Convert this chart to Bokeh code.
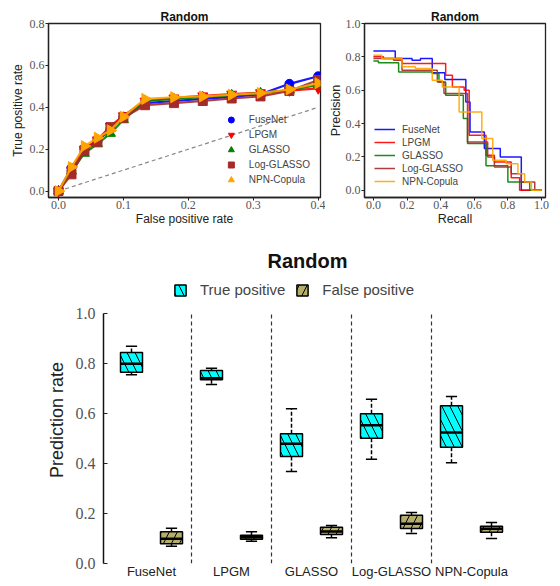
import math
import numpy as np
from bokeh.plotting import figure
from bokeh.layouts import column, row
from bokeh.models import (Range1d, FixedTicker, PrintfTickFormatter, Legend,
                          LegendItem)
from bokeh.embed import file_html
from bokeh.resources import INLINE

# ---------------- data ----------------
methods = ["FuseNet", "LPGM", "GLASSO", "Log-GLASSO", "NPN-Copula"]

# ROC (top-left)
roc_fpr = [0.0, 0.02, 0.04, 0.06, 0.08, 0.10, 0.1333, 0.1778, 0.2222, 0.2667, 0.3111, 0.3556, 0.40]
roc_fusenet = [0.0, 0.110, 0.205, 0.240, 0.295, 0.355, 0.420, 0.430, 0.440, 0.450, 0.462, 0.512, 0.548]
roc_lpgm = [0.0, 0.100, 0.200, 0.245, 0.310, 0.360, 0.430, 0.445, 0.455, 0.463, 0.470, 0.480, 0.490]
roc_glasso = [0.0, 0.095, 0.180, 0.225, 0.275, 0.340, 0.430, 0.440, 0.448, 0.458, 0.468, 0.482, 0.507]
roc_logglasso = [0.0, 0.080, 0.195, 0.235, 0.305, 0.350, 0.410, 0.420, 0.430, 0.442, 0.452, 0.478, 0.530]
roc_npn = [0.0, 0.115, 0.215, 0.255, 0.290, 0.355, 0.440, 0.448, 0.452, 0.460, 0.468, 0.485, 0.515]
roc_xticks = [0.0, 0.1, 0.2, 0.3, 0.4]
roc_yticks = [0.0, 0.2, 0.4, 0.6, 0.8]

# Precision-recall (top-right), step curves
pr_rec_fusenet = [0.0, 0.13, 0.23, 0.28, 0.35, 0.425, 0.55, 0.575, 0.66, 0.755, 0.88, 1.0]
pr_prec_fusenet = [0.835, 0.79, 0.78, 0.79, 0.705, 0.665, 0.53, 0.35, 0.25, 0.20, 0.0, 0.0]
pr_rec_lpgm = [0.0, 0.06, 0.17, 0.43, 0.47, 0.54, 0.57, 0.67, 0.72, 0.82, 0.87, 1.0]
pr_prec_lpgm = [0.80, 0.79, 0.76, 0.69, 0.62, 0.60, 0.33, 0.21, 0.17, 0.075, 0.0, 0.0]
pr_rec_glasso = [0.0, 0.03, 0.15, 0.35, 0.39, 0.43, 0.535, 0.56, 0.67, 0.80, 0.93, 1.0]
pr_prec_glasso = [0.775, 0.765, 0.71, 0.70, 0.65, 0.57, 0.43, 0.28, 0.147, 0.05, 0.0, 0.0]
pr_rec_logglasso = [0.0, 0.12, 0.17, 0.38, 0.42, 0.56, 0.68, 0.72, 0.82, 0.88, 0.96, 1.0]
pr_prec_logglasso = [0.79, 0.78, 0.72, 0.65, 0.58, 0.29, 0.20, 0.14, 0.10, 0.05, 0.0, 0.0]
pr_rec_npn = [0.0, 0.05, 0.17, 0.25, 0.35, 0.41, 0.51, 0.645, 0.71, 0.79, 0.86, 0.90, 0.94, 1.0]
pr_prec_npn = [0.81, 0.79, 0.74, 0.73, 0.66, 0.62, 0.47, 0.31, 0.18, 0.16, 0.10, 0.05, 0.0, 0.0]
pr_ticks = [0.0, 0.2, 0.4, 0.6, 0.8, 1.0]

# Box plots (bottom)
tp_whisk_low = [0.755, 0.716, 0.368, 0.417, 0.403]
tp_q1 = [0.765, 0.735, 0.428, 0.501, 0.465]
tp_median = [0.799, 0.741, 0.479, 0.553, 0.524]
tp_q3 = [0.844, 0.772, 0.519, 0.599, 0.631]
tp_whisk_high = [0.869, 0.781, 0.619, 0.657, 0.668]
fp_whisk_low = [0.069, 0.089, 0.103, 0.120, 0.100]
fp_q1 = [0.079, 0.097, 0.116, 0.140, 0.125]
fp_median = [0.099, 0.105, 0.128, 0.159, 0.139]
fp_q3 = [0.127, 0.113, 0.145, 0.193, 0.149]
fp_whisk_high = [0.141, 0.127, 0.152, 0.204, 0.164]
box_yticks = [0.0, 0.2, 0.4, 0.6, 0.8, 1.0]

# ---------------- styles ----------------
SANS = "Liberation Sans"
SERIF = "Liberation Serif"
colors = ["#0000ff", "#ff0000", "#008000", "#a52a2a", "#ffa500"]
markers = ["circle", "inverted_triangle", "triangle", "square", "triangle"]
marker_angles = [0.0, 0.0, 0.0, 0.0, -math.pi / 2]
marker_sizes = [9, 10, 10, 9, 11]
TICK_GRAY = "#555555"


def style_axes(p, tick_size, label_size, tick_in=0, tick_out=3):
    for ax in list(p.xaxis) + list(p.yaxis):
        ax.major_label_text_font = SERIF
        ax.major_label_text_font_size = tick_size
        ax.major_label_text_color = TICK_GRAY
        ax.axis_label_text_font = SANS
        ax.axis_label_text_font_size = label_size
        ax.axis_label_text_font_style = "normal"
        ax.axis_label_text_color = "#222222"
        ax.minor_tick_line_color = None
        ax.major_tick_in = tick_in
        ax.major_tick_out = tick_out
        ax.major_tick_line_color = "#222222"
        ax.axis_line_color = "#222222"
        ax.axis_line_width = 1.3


def style_title(p, size):
    p.title.text_font = SANS
    p.title.text_font_size = size
    p.title.text_font_style = "bold"
    p.title.align = "center"
    p.title.text_color = "#111111"


H1 = 236
W1 = 325

# ---------------- ROC ----------------
p1 = figure(width=W1, height=H1, output_backend="svg", toolbar_location=None,
            title="Random",
            x_range=Range1d(-0.0154, 0.4035), y_range=Range1d(-0.0306, 0.8),
            min_border_left=48, min_border_right=5, min_border_top=18,
            min_border_bottom=39)
style_title(p1, "12px")
p1.title.standoff = 0
p1.xgrid.visible = False
p1.ygrid.visible = False
p1.outline_line_color = "#222222"
p1.outline_line_width = 1.3
p1.xaxis.axis_label = "False positive rate"
p1.yaxis.axis_label = "True positive rate"
style_axes(p1, "12px", "12px")
p1.xaxis.ticker = FixedTicker(ticks=roc_xticks)
p1.yaxis.ticker = FixedTicker(ticks=roc_yticks)
p1.xaxis.formatter = PrintfTickFormatter(format="%.1f")
p1.yaxis.formatter = PrintfTickFormatter(format="%.1f")
p1.xaxis.major_label_standoff = 0
p1.yaxis.major_label_standoff = 1
p1.xaxis.axis_label_standoff = 0
p1.yaxis.axis_label_standoff = 2

p1.line(roc_fpr, roc_fpr, line_color="#888888", line_dash="4 3", line_width=1.2)
roc_series = [roc_fusenet, roc_lpgm, roc_glasso, roc_logglasso, roc_npn]
roc_items = []
for name, ys, c, m, a, s in zip(methods, roc_series, colors, markers, marker_angles, marker_sizes):
    p1.line(roc_fpr, ys, line_color=c, line_width=2.2, line_alpha=0.9)
    r = p1.scatter(roc_fpr, ys, marker=m, angle=a, size=s, fill_color=c, line_color=c)
    roc_items.append(LegendItem(label=name, renderers=[r]))
leg1 = Legend(items=roc_items, location="bottom_right", glyph_width=18, glyph_height=15,
              label_text_font=SANS, label_text_font_size="10px", label_standoff=9,
              spacing=0, padding=0, margin=10, border_line_color=None,
              background_fill_alpha=0, label_height=12)
p1.add_layout(leg1)

# ---------------- PR ----------------
p2 = figure(width=560 - W1, height=H1, output_backend="svg", toolbar_location=None,
            title="Random",
            x_range=Range1d(-0.053, 1.024), y_range=Range1d(-0.043, 1.0),
            min_border_left=33, min_border_right=15, min_border_top=23,
            min_border_bottom=36)
style_title(p2, "12px")
p2.title.standoff = 0
p2.xgrid.visible = False
p2.ygrid.visible = False
p2.outline_line_color = "#222222"
p2.outline_line_width = 1.3
p2.xaxis.axis_label = "Recall"
p2.yaxis.axis_label = "Precision"
style_axes(p2, "12px", "12.5px")
p2.xaxis.ticker = FixedTicker(ticks=pr_ticks)
p2.yaxis.ticker = FixedTicker(ticks=pr_ticks)
p2.xaxis.formatter = PrintfTickFormatter(format="%.1f")
p2.yaxis.formatter = PrintfTickFormatter(format="%.1f")
p2.xaxis.major_label_standoff = 0
p2.yaxis.major_label_standoff = 1
p2.xaxis.axis_label_standoff = 0
p2.yaxis.axis_label_standoff = 0

pr_series = [(pr_rec_fusenet, pr_prec_fusenet), (pr_rec_lpgm, pr_prec_lpgm),
             (pr_rec_glasso, pr_prec_glasso), (pr_rec_logglasso, pr_prec_logglasso),
             (pr_rec_npn, pr_prec_npn)]
pr_items = []
for name, (rx, py), c in zip(methods, pr_series, colors):
    r = p2.step(rx, py, mode="after", line_color=c, line_width=1.5, line_alpha=0.9)
    pr_items.append(LegendItem(label=name, renderers=[r]))
leg2 = Legend(items=pr_items, location="bottom_left", glyph_width=21, glyph_height=12,
              label_text_font=SANS, label_text_font_size="10px", label_standoff=7,
              spacing=1, padding=2, margin=10, border_line_color=None,
              background_fill_alpha=0, label_height=12)
p2.add_layout(leg2)

# ---------------- Box plots ----------------
n = len(methods)
centers = np.arange(n) + 0.5
boundaries = np.arange(1, n)
BOX_W = 0.275
CAP_W = 0.14
OFF = 0.25
tp_x = centers - OFF
fp_x = centers + OFF
y_lo, y_hi = box_yticks[0], box_yticks[-1]

p3 = figure(width=560, height=586 - H1, output_backend="svg", toolbar_location=None,
            title="Random",
            x_range=Range1d(-0.1, float(n)), y_range=Range1d(y_lo, 1.148),
            min_border_left=103, min_border_right=49, min_border_top=40,
            min_border_bottom=23)
style_title(p3, "20px")
p3.title.standoff = 9
p3.xgrid.visible = False
p3.ygrid.visible = False
p3.outline_line_color = None
p3.yaxis.axis_label = "Prediction rate"
style_axes(p3, "16px", "18px", tick_in=4, tick_out=0)
p3.yaxis.ticker = FixedTicker(ticks=box_yticks)
p3.yaxis.formatter = PrintfTickFormatter(format="%.1f")
p3.yaxis.bounds = (y_lo, y_hi)
p3.yaxis.major_label_standoff = 8
p3.yaxis.axis_label_standoff = 6
p3.yaxis.axis_line_color = "#111111"
p3.yaxis.axis_line_width = 1.5
p3.xaxis.ticker = FixedTicker(ticks=list(centers))
p3.xaxis.major_label_overrides = {float(c): m for c, m in zip(centers, methods)}
p3.xaxis.axis_line_color = None
p3.xaxis.major_tick_line_color = None
p3.xaxis.major_tick_out = 0
p3.xaxis.major_label_standoff = 0
p3.xaxis.axis_label_standoff = 0
p3.xaxis.major_label_text_font = SANS
p3.xaxis.major_label_text_font_size = "13px"
p3.xaxis.major_label_text_color = "#222222"

# dashed separators between methods, from 0 to 1
p3.segment(x0=boundaries, x1=boundaries, y0=y_lo, y1=y_hi, line_color="#333333",
           line_dash="4 3", line_width=1.2)

box_specs = [
    (tp_x, tp_whisk_low, tp_q1, tp_median, tp_q3, tp_whisk_high, "#00ffff", "\\"),
    (fp_x, fp_whisk_low, fp_q1, fp_median, fp_q3, fp_whisk_high, "#b5ae6a", "/"),
]
box_renderers = []
for xs, lo, q1, med, q3, hi, fc, hp in box_specs:
    p3.segment(x0=xs, x1=xs, y0=q3, y1=hi, line_color="black", line_width=1.5, line_dash="4 2")
    p3.segment(x0=xs, x1=xs, y0=q1, y1=lo, line_color="black", line_width=1.5, line_dash="4 2")
    p3.segment(x0=xs - CAP_W / 2, x1=xs + CAP_W / 2, y0=hi, y1=hi, line_color="black", line_width=1.5)
    p3.segment(x0=xs - CAP_W / 2, x1=xs + CAP_W / 2, y0=lo, y1=lo, line_color="black", line_width=1.5)
    r = p3.vbar(x=xs, width=BOX_W, bottom=q1, top=q3, fill_color=fc, line_color="black",
                line_width=1.5, hatch_pattern=hp, hatch_color="black", hatch_scale=16,
                hatch_weight=1)
    p3.segment(x0=xs - BOX_W / 2, x1=xs + BOX_W / 2, y0=med, y1=med, line_color="black", line_width=2.5)
    box_renderers.append(r)

leg3 = Legend(items=[LegendItem(label="True positive", renderers=[box_renderers[0]]),
                     LegendItem(label="False positive", renderers=[box_renderers[1]])],
              orientation="horizontal", location=(70, 265), glyph_width=14, glyph_height=14,
              label_text_font=SANS, label_text_font_size="15px", label_standoff=13,
              spacing=10, padding=0, margin=0, border_line_color=None,
              background_fill_alpha=0)
p3.add_layout(leg3)

layout = column(row(p1, p2), p3)
open("out.html", "w").write(file_html(layout, INLINE))
